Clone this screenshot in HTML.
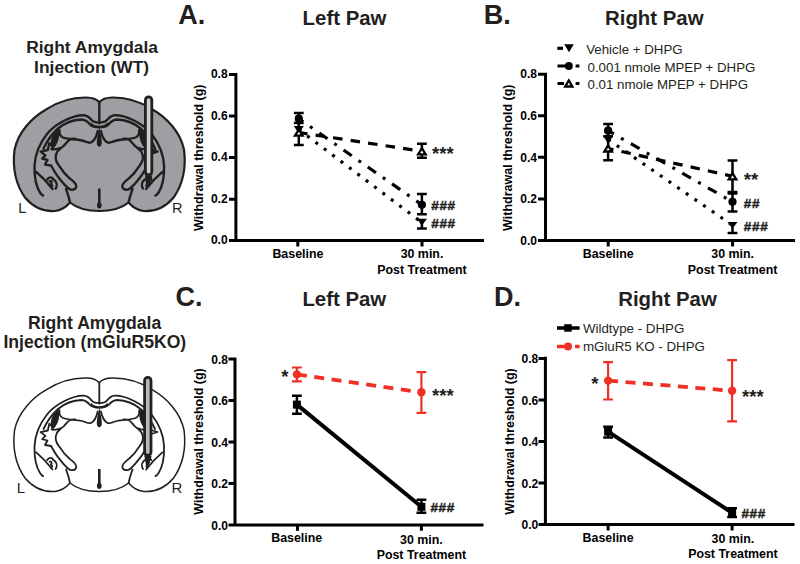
<!DOCTYPE html>
<html><head><meta charset="utf-8">
<style>
html,body{margin:0;padding:0;background:#fff;width:800px;height:564px;overflow:hidden}
svg{display:block;font-family:"Liberation Sans",sans-serif}
.b{font-weight:bold}
</style></head><body>
<svg width="800" height="564" viewBox="0 0 800 564">

<!-- Panel letters and titles -->
<g class="b" fill="#231f20">
<text x="178.2" y="23.8" font-size="27">A.</text>
<text x="302.6" y="24.6" font-size="20.4">Left Paw</text>
<text x="483.8" y="24" font-size="27">B.</text>
<text x="605" y="24.6" font-size="20.4">Right Paw</text>
<text x="175.6" y="305.8" font-size="27">C.</text>
<text x="302.4" y="305.8" font-size="20.4">Left Paw</text>
<text x="494" y="305.8" font-size="27">D.</text>
<text x="618.2" y="305.8" font-size="20.4">Right Paw</text>
<text x="92.1" y="52.6" font-size="17.4" text-anchor="middle">Right Amygdala</text>
<text x="91.6" y="72.9" font-size="17.4" text-anchor="middle">Injection (WT)</text>
<text x="94.6" y="328.6" font-size="17.6" text-anchor="middle">Right Amygdala</text>
<text x="94.8" y="348.2" font-size="17.6" text-anchor="middle">Injection (mGluR5KO)</text>
</g>

<!-- Chart A -->
<g id="chartA">
<g stroke="#000" stroke-width="3" fill="none">
<path d="M235.9 73 V240.4 M229 240.5 H484 M229 74.6 H235.9 M229 116.1 H235.9 M229 157.6 H235.9 M229 199.2 H235.9 M297.8 240.4 V246.5 M422 240.4 V246.5"/>
</g>
<g class="b" font-size="12" text-anchor="end" fill="#000">
<text x="227.6" y="78.4">0.8</text>
<text x="227.6" y="120">0.6</text>
<text x="227.6" y="161.3">0.4</text>
<text x="227.6" y="202.6">0.2</text>
<text x="227.6" y="243.9">0.0</text>
</g>
<g class="b" font-size="12.4" text-anchor="middle" fill="#000">
<text x="297.9" y="257.5">Baseline</text>
<text x="422" y="258.4">30 min.</text>
<text x="422" y="274.4">Post Treatment</text>
</g>
<text class="b" font-size="12.5" transform="translate(202.6,157.7) rotate(-90)" text-anchor="middle">Withdrawal threshold (g)</text>
</g>

<!-- Chart B -->
<g id="chartB">
<g stroke="#000" stroke-width="3" fill="none">
<path d="M545.5 72.7 V240.4 M538 240.4 H795 M538 74.2 H545.5 M538 115.8 H545.5 M538 157.3 H545.5 M538 198.9 H545.5 M608.2 240.4 V246.5 M732.6 240.4 V246.5"/>
</g>
<g class="b" font-size="12" text-anchor="end" fill="#000">
<text x="537" y="78.4">0.8</text>
<text x="537" y="120">0.6</text>
<text x="537" y="161.5">0.4</text>
<text x="537" y="203.1">0.2</text>
<text x="537" y="244.6">0.0</text>
</g>
<g class="b" font-size="12.4" text-anchor="middle" fill="#000">
<text x="608.2" y="257.5">Baseline</text>
<text x="732.6" y="258.4">30 min.</text>
<text x="732.6" y="274.4">Post Treatment</text>
</g>
<text class="b" font-size="12.5" transform="translate(512,157.7) rotate(-90)" text-anchor="middle">Withdrawal threshold (g)</text>
</g>

<!-- Chart C -->
<g id="chartC">
<g stroke="#000" stroke-width="3" fill="none">
<path d="M235 357.5 V524.7 M228.5 525 H483.5 M228.5 359 H235 M228.5 400.5 H235 M228.5 442 H235 M228.5 483.5 H235 M297.5 524.7 V530.8 M421.4 524.7 V530.8"/>
</g>
<g class="b" font-size="12" text-anchor="end" fill="#000">
<text x="228" y="363.8">0.8</text>
<text x="228" y="405.3">0.6</text>
<text x="228" y="446.8">0.4</text>
<text x="228" y="488.4">0.2</text>
<text x="228" y="529.9">0.0</text>
</g>
<g class="b" font-size="12.4" text-anchor="middle" fill="#000">
<text x="296.7" y="542.4">Baseline</text>
<text x="421.4" y="543.5">30 min.</text>
<text x="421.4" y="559.2">Post Treatment</text>
</g>
<text class="b" font-size="12.5" transform="translate(202.5,441.5) rotate(-90)" text-anchor="middle">Withdrawal threshold (g)</text>
</g>

<!-- Chart D -->
<g id="chartD">
<g stroke="#000" stroke-width="3" fill="none">
<path d="M545.4 356.8 V524.5 M538.5 524.5 H794.5 M538.5 358.4 H545.4 M538.5 399.9 H545.4 M538.5 441.4 H545.4 M538.5 483 H545.4 M608.1 524.5 V530.6 M732.1 524.5 V530.6"/>
</g>
<g class="b" font-size="12" text-anchor="end" fill="#000">
<text x="538.2" y="363.0">0.8</text>
<text x="538.2" y="404.5">0.6</text>
<text x="538.2" y="446.0">0.4</text>
<text x="538.2" y="487.6">0.2</text>
<text x="538.2" y="529.1">0.0</text>
</g>
<g class="b" font-size="12.4" text-anchor="middle" fill="#000">
<text x="608.1" y="541.5">Baseline</text>
<text x="732.9" y="542.7">30 min.</text>
<text x="732.9" y="558.3">Post Treatment</text>
</g>
<text class="b" font-size="12.5" transform="translate(513.5,441.5) rotate(-90)" text-anchor="middle">Withdrawal threshold (g)</text>
</g>

<!-- BRAIN -->
<g transform="translate(0,0)">
<path d="M99.3 102.3 C97 99.5 93 97.6 86.5 97.5 C74 97.3 59 101 46.5 109.2 C32 117.5 18 132 14.5 150 C12.5 167 15.5 184 25 197.5 C33 207 44 211.8 55 211 C62 210.2 67 206 70 202.5 C76 207.5 86 211 99.3 211 C112.60 211.00 122.60 207.50 128.60 202.50 C131.60 206.00 136.60 210.20 143.60 211.00 C154.60 211.80 165.60 207.00 173.60 197.50 C183.10 184.00 186.10 167.00 184.10 150.00 C180.60 132.00 166.60 117.50 152.10 109.20 C139.60 101.00 124.60 97.30 112.10 97.50 C105.60 97.60 101.60 99.50 99.30 102.30 Z" fill="#9e9fa3" stroke="#231f20" stroke-width="2.2"/>
<path d="M99.3 122.6 C96 122.6 93.2 122 91.6 120 C90 118 88 115.4 84 115.2 C72 115 55 124 47 134 C40 143 35 153 34.5 166 C34.3 177 36.5 187 40 192.5 C41 194 42 195 43.1 195.6 M99.3 127.3 C95 127.3 92 126.6 90 124.5 C88.5 122.6 86 119.6 81.5 119.5 C72 119.8 64 123.5 58 128.5 C52 134 47 141 43.5 148.5 M59.5 130 C59 133 60 136 63 137.5 C68 139.5 76 139 82 140.5 C86 141.5 88.5 143.5 91 142.5 C94 141 96.5 136.5 97.7 131 M51.5 149 C54.5 150 58 149 61.5 147.7 M51.1 165.5 C53 169 55.5 173.5 58.2 176.9 C61 180.5 63 183 65.3 185.4 C67 187.3 69 189.3 71 189.6 C73.5 190 76.2 189 76.3 186.5 C76.3 183 72.5 180.5 69.6 178.3 C66 175.2 63 172 61 168.4 C58.5 165 56.5 163 56 160 C55.2 157 56 152 58.9 149.9 C61 148 62.5 146.5 63.9 145.7 C66 143.5 67.5 141 69.6 139.8 C71 139 73 138.8 75.3 138.8 M66.1 189 C67.5 193 69 197 70 202.5 M36.2 171.9 C41 176 47 182 52.5 189 M47.2 179.6 C48.5 176.8 52.5 176.6 53.2 179.6 M54.3 180 C56.8 182 57.6 185.5 55.6 188.6 M49.6 181.2 C51.3 180.2 52.6 182.6 50.8 184 C52.6 184.8 52.6 186.8 51 187.4 M 99.3 122.6 C 102.6 122.6 105.4 122 107 120 C 108.6 118 110.6 115.4 114.6 115.2 C 126.6 115 143.6 124 151.6 134 C 158.6 143 163.6 153 164.1 166 C 164.3 177 162.1 187 158.6 192.5 C 157.6 194 156.6 195 155.5 195.6 M 99.3 127.3 C 103.6 127.3 106.6 126.6 108.6 124.5 C 110.1 122.6 112.6 119.6 117.1 119.5 C 126.6 119.8 134.6 123.5 140.6 128.5 C 146.6 134 151.6 141 155.1 148.5 M 139.1 130 C 139.6 133 138.6 136 135.6 137.5 C 130.6 139.5 122.6 139 116.6 140.5 C 112.6 141.5 110.1 143.5 107.6 142.5 C 104.6 141 102.1 136.5 100.9 131 M 147.1 149 C 144.1 150 140.6 149 137.1 147.7 M 147.5 165.5 C 145.6 169 143.1 173.5 140.4 176.9 C 137.6 180.5 135.6 183 133.3 185.4 C 131.6 187.3 129.6 189.3 127.6 189.6 C 125.1 190 122.4 189 122.3 186.5 C 122.3 183 126.1 180.5 129 178.3 C 132.6 175.2 135.6 172 137.6 168.4 C 140.1 165 142.1 163 142.6 160 C 143.4 157 142.6 152 139.7 149.9 C 137.6 148 136.1 146.5 134.7 145.7 C 132.6 143.5 131.1 141 129 139.8 C 127.6 139 125.6 138.8 123.3 138.8 M 132.5 189 C 131.1 193 129.6 197 128.6 202.5 M 162.4 171.9 C 157.6 176 151.6 182 146.1 189 M 151.4 179.6 C 150.1 176.8 146.1 176.6 145.4 179.6 M 144.3 180 C 141.8 182 141 185.5 143 188.6 M 149 181.2 C 147.3 180.2 146 182.6 147.8 184 C 146 184.8 146 186.8 147.6 187.4 M99.3 102.3 V123.2 M53 146.5 L49.3 143.3 L47.8 150 L40.6 151.6 L45.4 155.4 L42.2 158.6 L47.5 160 L45 164.5 L51.1 165.5 M152.8 150 L157.5 151.5 L152.8 153" fill="none" stroke="#231f20" stroke-width="2.4" stroke-linecap="round" stroke-linejoin="round"/>
<path d="M91.3 122.3 C93 125 96 125.8 99.3 125.8 V127.6 C95 127.6 92 126.8 90 124.7 Z M59 129 C51 134 49 143 52 149.5 C57.5 146 60.5 137 59 129 Z M 107.3 122.3 C 105.6 125 102.6 125.8 99.3 125.8 V 127.6 C 103.6 127.6 106.6 126.8 108.6 124.7 Z M 139.6 129 C 147.6 134 149.6 143 146.6 149.5 C 141.1 146 138.1 137 139.6 129 Z M99.3 127 C98.6 132 96.6 138 96.8 143 C97 148 101.6 148 101.8 143 C102 138 100 132 99.3 127 Z M98 188.5 H100.6 V202.5 C102.2 204 102.2 208.5 99.3 208.5 C96.4 208.5 96.4 204 98 202.5 Z" fill="#231f20"/>
<rect x="145.4" y="96.9" width="6.4" height="78" rx="3.2" fill="#cfcfd1" stroke="#231f20" stroke-width="2.8"/>
<path d="M145.1 175 L152.4 175.5 L150.1 184 L147.1 186.5 Z" fill="#231f20"/>
</g>
<g transform="translate(0,280.5)">
<path d="M99.3 102.3 C97 99.5 93 97.6 86.5 97.5 C74 97.3 59 101 46.5 109.2 C32 117.5 18 132 14.5 150 C12.5 167 15.5 184 25 197.5 C33 207 44 211.8 55 211 C62 210.2 67 206 70 202.5 C76 207.5 86 211 99.3 211 C112.60 211.00 122.60 207.50 128.60 202.50 C131.60 206.00 136.60 210.20 143.60 211.00 C154.60 211.80 165.60 207.00 173.60 197.50 C183.10 184.00 186.10 167.00 184.10 150.00 C180.60 132.00 166.60 117.50 152.10 109.20 C139.60 101.00 124.60 97.30 112.10 97.50 C105.60 97.60 101.60 99.50 99.30 102.30 Z" fill="#ffffff" stroke="#231f20" stroke-width="1.5"/>
<path d="M99.3 122.6 C96 122.6 93.2 122 91.6 120 C90 118 88 115.4 84 115.2 C72 115 55 124 47 134 C40 143 35 153 34.5 166 C34.3 177 36.5 187 40 192.5 C41 194 42 195 43.1 195.6 M99.3 127.3 C95 127.3 92 126.6 90 124.5 C88.5 122.6 86 119.6 81.5 119.5 C72 119.8 64 123.5 58 128.5 C52 134 47 141 43.5 148.5 M59.5 130 C59 133 60 136 63 137.5 C68 139.5 76 139 82 140.5 C86 141.5 88.5 143.5 91 142.5 C94 141 96.5 136.5 97.7 131 M51.5 149 C54.5 150 58 149 61.5 147.7 M51.1 165.5 C53 169 55.5 173.5 58.2 176.9 C61 180.5 63 183 65.3 185.4 C67 187.3 69 189.3 71 189.6 C73.5 190 76.2 189 76.3 186.5 C76.3 183 72.5 180.5 69.6 178.3 C66 175.2 63 172 61 168.4 C58.5 165 56.5 163 56 160 C55.2 157 56 152 58.9 149.9 C61 148 62.5 146.5 63.9 145.7 C66 143.5 67.5 141 69.6 139.8 C71 139 73 138.8 75.3 138.8 M66.1 189 C67.5 193 69 197 70 202.5 M36.2 171.9 C41 176 47 182 52.5 189 M47.2 179.6 C48.5 176.8 52.5 176.6 53.2 179.6 M54.3 180 C56.8 182 57.6 185.5 55.6 188.6 M49.6 181.2 C51.3 180.2 52.6 182.6 50.8 184 C52.6 184.8 52.6 186.8 51 187.4 M 99.3 122.6 C 102.6 122.6 105.4 122 107 120 C 108.6 118 110.6 115.4 114.6 115.2 C 126.6 115 143.6 124 151.6 134 C 158.6 143 163.6 153 164.1 166 C 164.3 177 162.1 187 158.6 192.5 C 157.6 194 156.6 195 155.5 195.6 M 99.3 127.3 C 103.6 127.3 106.6 126.6 108.6 124.5 C 110.1 122.6 112.6 119.6 117.1 119.5 C 126.6 119.8 134.6 123.5 140.6 128.5 C 146.6 134 151.6 141 155.1 148.5 M 139.1 130 C 139.6 133 138.6 136 135.6 137.5 C 130.6 139.5 122.6 139 116.6 140.5 C 112.6 141.5 110.1 143.5 107.6 142.5 C 104.6 141 102.1 136.5 100.9 131 M 147.1 149 C 144.1 150 140.6 149 137.1 147.7 M 147.5 165.5 C 145.6 169 143.1 173.5 140.4 176.9 C 137.6 180.5 135.6 183 133.3 185.4 C 131.6 187.3 129.6 189.3 127.6 189.6 C 125.1 190 122.4 189 122.3 186.5 C 122.3 183 126.1 180.5 129 178.3 C 132.6 175.2 135.6 172 137.6 168.4 C 140.1 165 142.1 163 142.6 160 C 143.4 157 142.6 152 139.7 149.9 C 137.6 148 136.1 146.5 134.7 145.7 C 132.6 143.5 131.1 141 129 139.8 C 127.6 139 125.6 138.8 123.3 138.8 M 132.5 189 C 131.1 193 129.6 197 128.6 202.5 M 162.4 171.9 C 157.6 176 151.6 182 146.1 189 M 151.4 179.6 C 150.1 176.8 146.1 176.6 145.4 179.6 M 144.3 180 C 141.8 182 141 185.5 143 188.6 M 149 181.2 C 147.3 180.2 146 182.6 147.8 184 C 146 184.8 146 186.8 147.6 187.4 M99.3 102.3 V123.2 M53 146.5 L49.3 143.3 L47.8 150 L40.6 151.6 L45.4 155.4 L42.2 158.6 L47.5 160 L45 164.5 L51.1 165.5 M152.8 150 L157.5 151.5 L152.8 153" fill="none" stroke="#231f20" stroke-width="1.8" stroke-linecap="round" stroke-linejoin="round"/>
<path d="M91.3 122.3 C93 125 96 125.8 99.3 125.8 V127.6 C95 127.6 92 126.8 90 124.7 Z M59 129 C51 134 49 143 52 149.5 C57.5 146 60.5 137 59 129 Z M 107.3 122.3 C 105.6 125 102.6 125.8 99.3 125.8 V 127.6 C 103.6 127.6 106.6 126.8 108.6 124.7 Z M 139.6 129 C 147.6 134 149.6 143 146.6 149.5 C 141.1 146 138.1 137 139.6 129 Z M99.3 127 C98.6 132 96.6 138 96.8 143 C97 148 101.6 148 101.8 143 C102 138 100 132 99.3 127 Z M98 188.5 H100.6 V202.5 C102.2 204 102.2 208.5 99.3 208.5 C96.4 208.5 96.4 204 98 202.5 Z" fill="#231f20"/>
<rect x="144.6" y="96.9" width="6.4" height="78" rx="3.2" fill="#b9b9bb" stroke="#231f20" stroke-width="2.8"/>
<path d="M144.3 175 L151.6 175.5 L149.3 184 L146.3 186.5 Z" fill="#231f20"/>
</g>
<g font-size="14.5" fill="#231f20">
<text x="18.2" y="212.7">L</text><text x="172" y="213">R</text>
<text x="16.8" y="493" font-size="15">L</text><text x="171.5" y="493" font-size="15">R</text>
</g>
<!-- /BRAIN -->
<!-- DATA -->
<g id="dataA">
<path d="M298.8 132.5 L421.9 151.3" stroke="#000" stroke-width="3.2" fill="none" stroke-dasharray="9.5 8.2" stroke-dashoffset="0.7"/>
<path d="M298.8 118.7 L421.9 204.8" stroke="#000" stroke-width="3.2" fill="none" stroke-dasharray="10 8.3 3 8.3" stroke-dashoffset="4.6"/>
<path d="M298.8 129.5 L421.9 222.5" stroke="#000" stroke-width="3.2" fill="none" stroke-dasharray="3 7.5" stroke-dashoffset="0"/>
<path d="M298.8 113 V145 M293.9 113 H303.7 M293.9 123 H303.7 M293.9 145 H303.7" stroke="#000" stroke-width="2.5" fill="none"/>
<path d="M421.9 143.8 V157.7 M417.0 143.8 H426.8 M417.0 157.7 H426.8" stroke="#000" stroke-width="2.5" fill="none"/>
<path d="M421.9 193.9 V214.3 M417.0 193.9 H426.8 M417.0 214.3 H426.8" stroke="#000" stroke-width="2.5" fill="none"/>
<path d="M421.9 219 V228.4 M417.0 228.4 H426.8" stroke="#000" stroke-width="2.5" fill="none"/>
<circle cx="298.8" cy="118.7" r="4.1" fill="#000"/>
<path d="M293.8 126.1 H303.8 L298.8 133.6 Z" fill="#000"/>
<path d="M295.0 135.6 H302.6 L298.8 129.6 Z" fill="#fff" stroke="#000" stroke-width="2.3" stroke-linejoin="miter"/>
<path d="M418.1 154.3 H425.7 L421.9 148.1 Z" fill="#fff" stroke="#000" stroke-width="2.3" stroke-linejoin="miter"/>
<circle cx="421.9" cy="204.8" r="4.1" fill="#000"/>
<path d="M416.9 218.8 H426.9 L421.9 225.8 Z" fill="#000"/>
</g>
<g id="dataB">
<path d="M608.1 148.5 L732.5 176.3" stroke="#000" stroke-width="3.2" fill="none" stroke-dasharray="9.5 8.2" stroke-dashoffset="4"/>
<path d="M608.1 130.7 L732.5 201.8" stroke="#000" stroke-width="3.2" fill="none" stroke-dasharray="10 8.3 3 8.3" stroke-dashoffset="3.4"/>
<path d="M608.1 139.5 L732.5 225.3" stroke="#000" stroke-width="3.2" fill="none" stroke-dasharray="3 7.5" stroke-dashoffset="0"/>
<path d="M608.1 123.9 V160.2 M603.2 123.9 H613.0 M603.2 136.3 H613.0 M603.2 160.2 H613.0" stroke="#000" stroke-width="2.5" fill="none"/>
<path d="M732.5 160.4 V192 M727.6 160.4 H737.4 M727.6 192 H737.4" stroke="#000" stroke-width="2.5" fill="none"/>
<path d="M732.5 193.4 V211.4 M727.6 193.4 H737.4 M727.6 211.4 H737.4" stroke="#000" stroke-width="2.5" fill="none"/>
<path d="M732.5 222 V233 M727.6 233 H737.4" stroke="#000" stroke-width="2.5" fill="none"/>
<circle cx="608.1" cy="130.7" r="4.1" fill="#000"/>
<path d="M603.1 136.1 H613.1 L608.1 143.6 Z" fill="#000"/>
<path d="M604.3 151.5 H611.9 L608.1 145.5 Z" fill="#fff" stroke="#000" stroke-width="2.3" stroke-linejoin="miter"/>
<path d="M728.7 179.4 H736.3 L732.5 173.2 Z" fill="#fff" stroke="#000" stroke-width="2.3" stroke-linejoin="miter"/>
<circle cx="732.5" cy="201.8" r="4.1" fill="#000"/>
<path d="M727.5 221.9 H737.5 L732.5 228.4 Z" fill="#000"/>
</g>
<g id="dataC">
<path d="M296.9 404.6 L421.4 506.8" stroke="#000" stroke-width="4" fill="none"/>
<path d="M296.9 374.4 L421.4 392.3" stroke="#ee3124" stroke-width="3.8" fill="none" stroke-dasharray="10 7.5" stroke-dashoffset="0"/>
<path d="M296.9 395.8 V413.7 M292.0 395.8 H301.8 M292.0 413.7 H301.8" stroke="#000" stroke-width="2.5" fill="none"/>
<path d="M421.4 499.8 V512.7 M416.5 499.8 H426.3 M416.5 512.7 H426.3" stroke="#000" stroke-width="2.5" fill="none"/>
<rect x="292.9" y="400.6" width="8" height="8" fill="#000"/>
<rect x="417.4" y="502.8" width="8" height="8" fill="#000"/>
<path d="M296.9 367.5 V381.3 M292.0 367.5 H301.8 M292.0 381.3 H301.8" stroke="#ee3124" stroke-width="2.2" fill="none"/>
<path d="M421.4 372.2 V412.9 M416.5 372.2 H426.3 M416.5 412.9 H426.3" stroke="#ee3124" stroke-width="2.2" fill="none"/>
<circle cx="296.9" cy="374.4" r="4.2" fill="#ee3124"/>
<circle cx="421.4" cy="392.3" r="4.2" fill="#ee3124"/>
</g>
<g id="dataD">
<path d="M608.1 431.6 L732.1 512.8" stroke="#000" stroke-width="4" fill="none"/>
<path d="M608.1 380.6 L732.1 390.8" stroke="#ee3124" stroke-width="3.8" fill="none" stroke-dasharray="10 7.5" stroke-dashoffset="0"/>
<path d="M608.1 426.7 V437.4 M603.2 426.7 H613.0 M603.2 437.4 H613.0" stroke="#000" stroke-width="2.5" fill="none"/>
<path d="M732.1 508.3 V517.1 M727.2 508.3 H737.0 M727.2 517.1 H737.0" stroke="#000" stroke-width="2.5" fill="none"/>
<rect x="604.1" y="427.6" width="8" height="8" fill="#000"/>
<rect x="728.1" y="508.8" width="8" height="8" fill="#000"/>
<path d="M608.1 362.2 V399.5 M603.2 362.2 H613.0 M603.2 399.5 H613.0" stroke="#ee3124" stroke-width="2.2" fill="none"/>
<path d="M732.1 360.2 V421.4 M727.2 360.2 H737.0 M727.2 421.4 H737.0" stroke="#ee3124" stroke-width="2.2" fill="none"/>
<circle cx="608.1" cy="380.6" r="4.2" fill="#ee3124"/>
<circle cx="732.1" cy="390.8" r="4.2" fill="#ee3124"/>
</g>
<g fill="#231f20">
<g class="b" font-size="18.5">
<text x="432" y="159.8">***</text>
<text x="743.8" y="186">**</text>
<text x="281.2" y="383">*</text>
<text x="432" y="401.8">***</text>
<text x="591.2" y="389.5">*</text>
<text x="742" y="402.5">***</text>
</g>
<g class="b" font-size="13.5" letter-spacing="0.7" stroke="#231f20" stroke-width="0.45">
<text x="431.2" y="210">###</text>
<text x="431.2" y="228.2">###</text>
<text x="743.8" y="208">##</text>
<text x="743.8" y="231">###</text>
<text x="430.4" y="511.5">###</text>
<text x="741.4" y="517.5">###</text>
</g>
</g>
<g font-size="13.3" fill="#231f20">
<path d="M557.3 48.3 H563" stroke="#000" stroke-width="3.2"/>
<path d="M564.2 44.3 H573.8 L569.0 52.3 Z" fill="#000"/>
<text x="586.2" y="54">Vehicle + DHPG</text>
<path d="M557.5 66 H565 M575.6 66 H579.4" stroke="#000" stroke-width="3.2"/>
<circle cx="568.8" cy="66" r="4" fill="#000"/>
<text x="587.5" y="71.8">0.001 nmole MPEP + DHPG</text>
<path d="M557.5 83.5 H564 M575.6 83.5 H579.4" stroke="#000" stroke-width="3.2"/>
<path d="M565.2 86.5 H572.4 L568.8 80.5 Z" fill="#fff" stroke="#000" stroke-width="2.3" stroke-linejoin="miter"/>
<text x="587.5" y="89.4">0.01 nmole MPEP + DHPG</text>
<path d="M557 328 H579.6" stroke="#000" stroke-width="3.5"/>
<rect x="564.2" y="324.2" width="7.5" height="7.5" fill="#000"/>
<text x="583" y="332.7">Wildtype - DHPG</text>
<path d="M557 346.6 H564 M575 346.6 H579.6" stroke="#ee3124" stroke-width="3.5"/>
<circle cx="568" cy="346.6" r="4" fill="#ee3124"/>
<text x="583" y="351.3">mGluR5 KO - DHPG</text>
</g>
<!-- /DATA -->
</svg>
</body></html>
